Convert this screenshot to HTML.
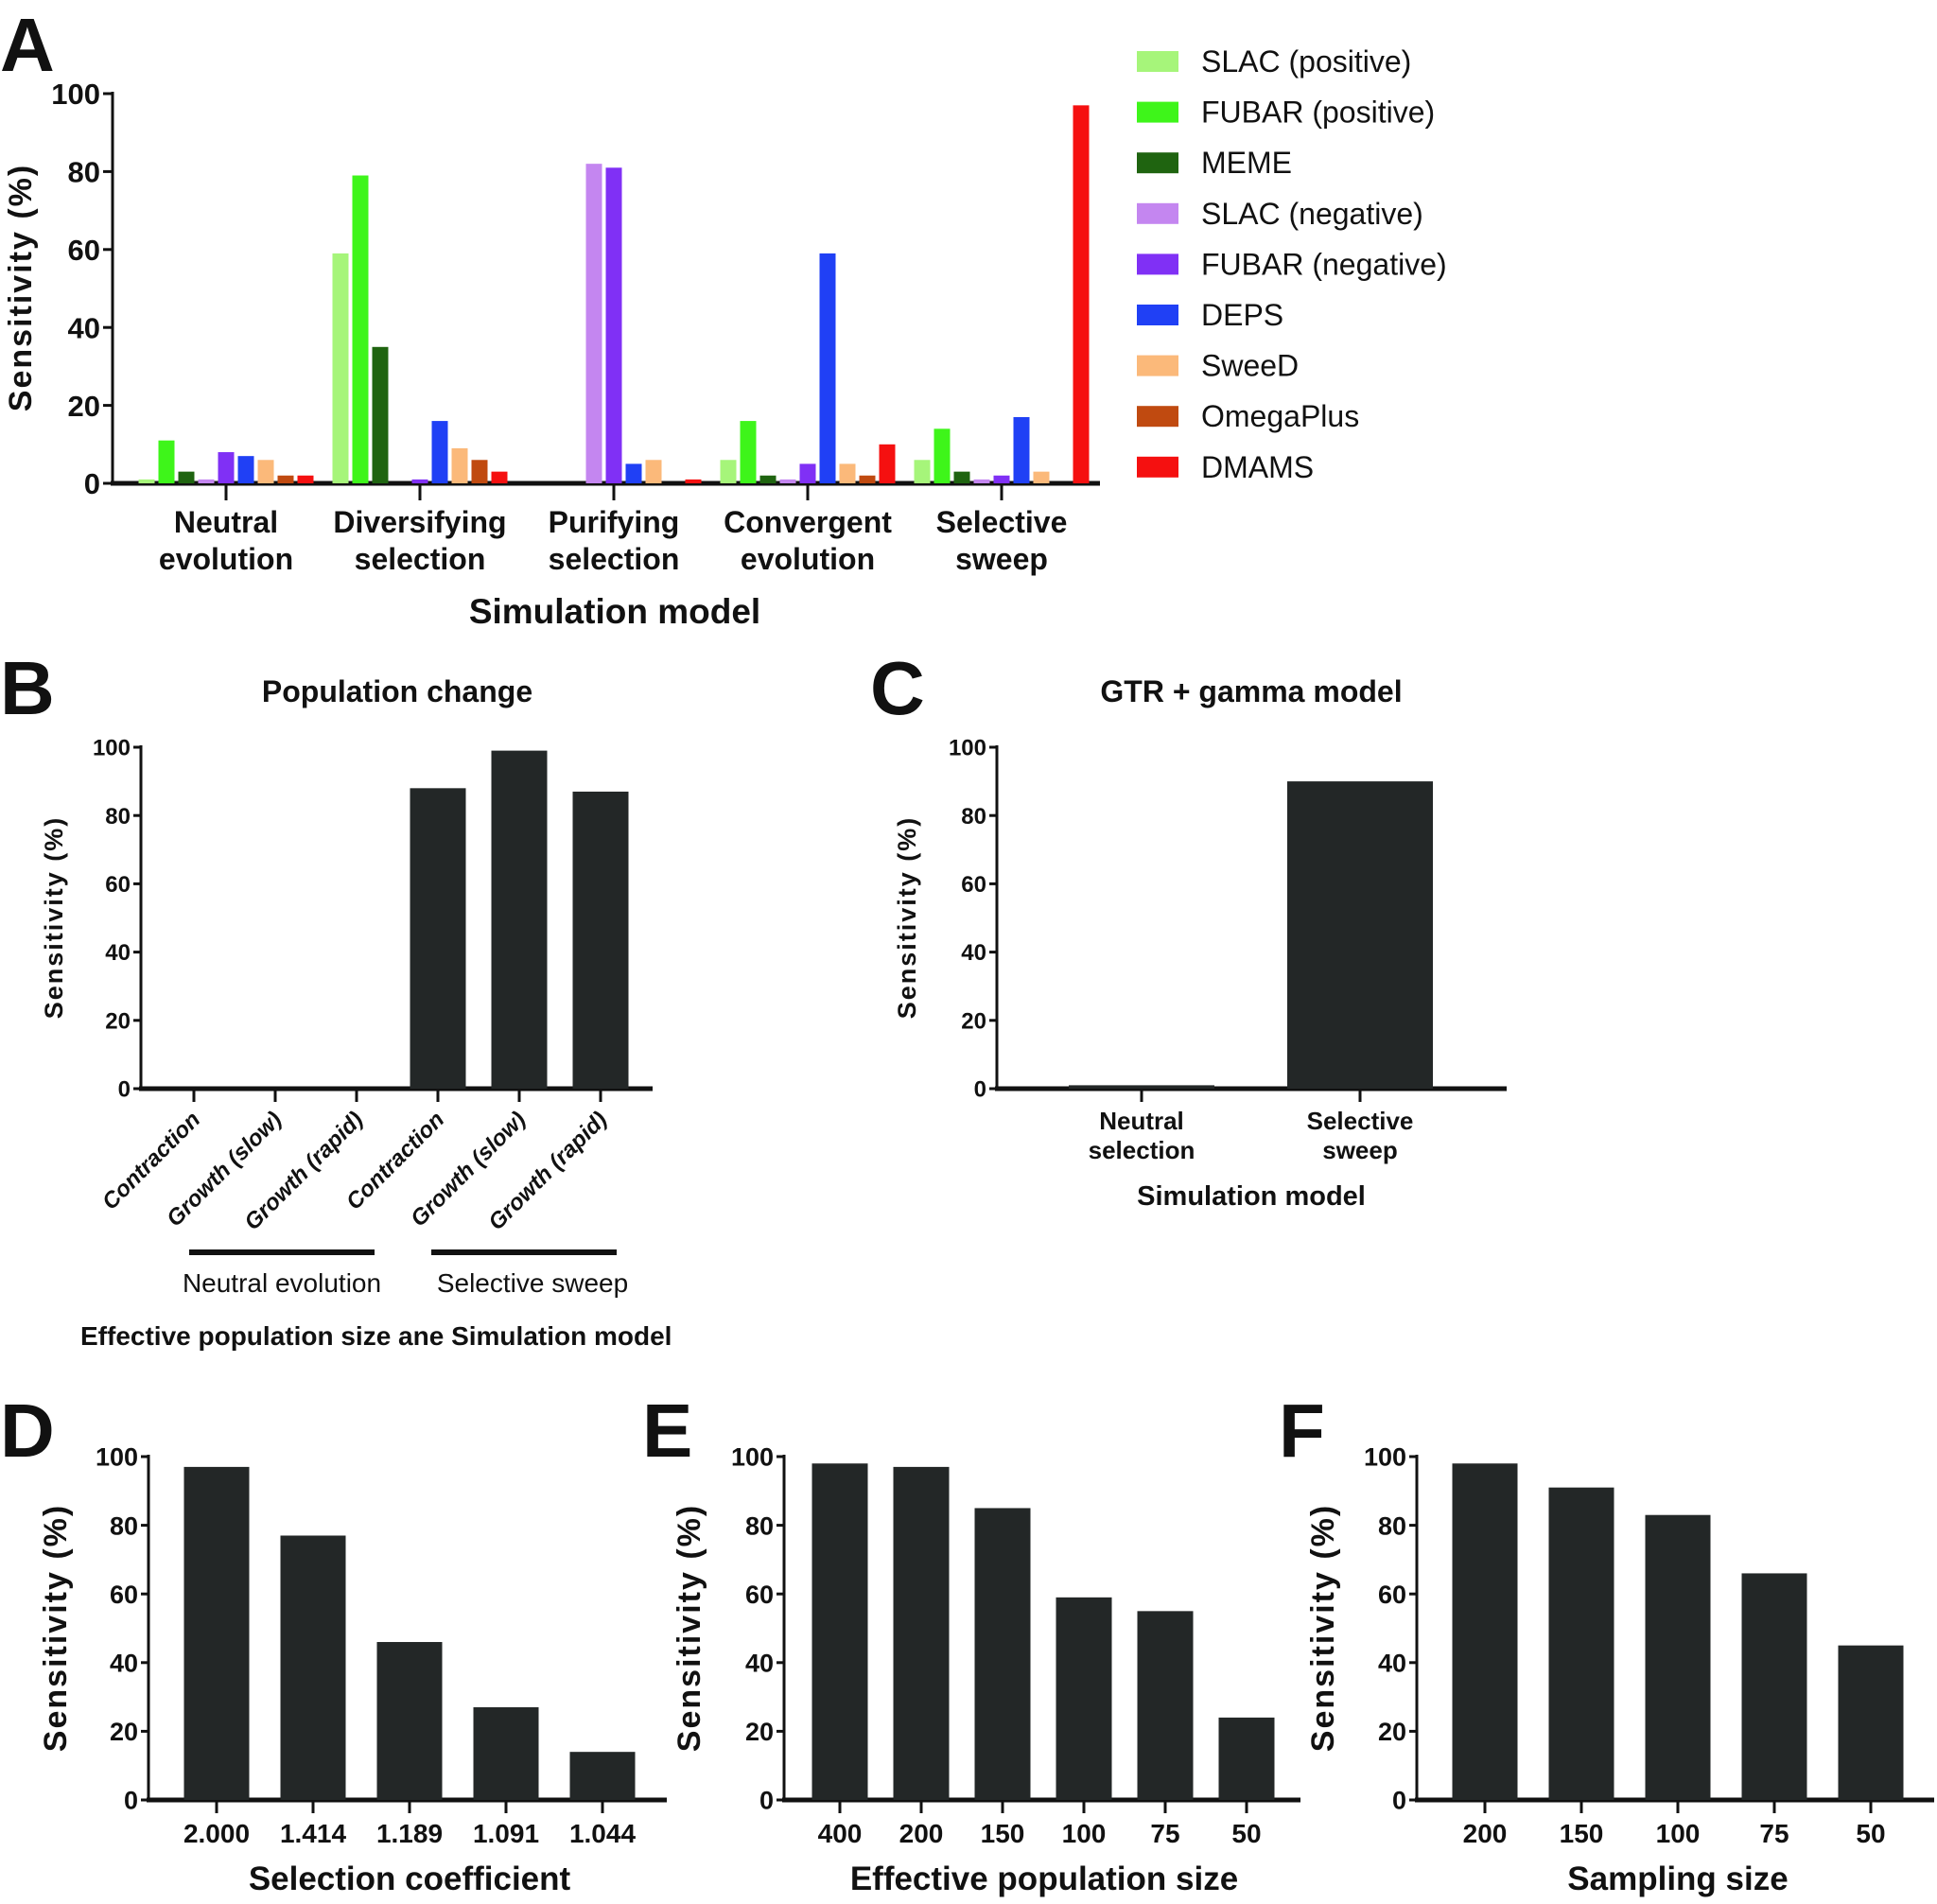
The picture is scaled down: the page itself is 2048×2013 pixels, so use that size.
<!DOCTYPE html>
<html><head><meta charset="utf-8"><style>
html,body{margin:0;padding:0;background:#fff;}
svg{display:block;font-family:"Liberation Sans",sans-serif;}
</style></head><body>
<svg id="fig" width="2048" height="2013" viewBox="0 0 2048 2013" xmlns="http://www.w3.org/2000/svg"></svg>
<script>
// ---- Panel A data ----
const aCategories = [["Neutral","evolution"],["Diversifying","selection"],["Purifying","selection"],["Convergent","evolution"],["Selective","sweep"]];
const aSeries = ["SLAC (positive)","FUBAR (positive)","MEME","SLAC (negative)","FUBAR (negative)","DEPS","SweeD","OmegaPlus","DMAMS"];
const aColors = ["#a6f57a","#3ef51a","#1f6410","#c486f0","#8030f5","#2040f5","#fbb97a","#c04a10","#f51010"];
const aSLACpos = [1,59,0,6,6];
const aFUBARpos = [11,79,0,16,14];
const aMEME = [3,35,0,2,3];
const aSLACneg = [1,0,82,1,1];
const aFUBARneg = [8,1,81,5,2];
const aDEPS = [7,16,5,59,17];
const aSweeD = [6,9,6,5,3];
const aOmega = [2,6,0,2,0];
const aDMAMS = [2,3,1,10,97];
const aValues = [aSLACpos,aFUBARpos,aMEME,aSLACneg,aFUBARneg,aDEPS,aSweeD,aOmega,aDMAMS];
const yTicks = [0,20,40,60,80,100];
// ---- Panel B ----
const bCategories = ["Contraction","Growth (slow)","Growth (rapid)","Contraction","Growth (slow)","Growth (rapid)"];
const bValues = [0,0,0,88,99,87];
// ---- Panel C ----
const cCategories = [["Neutral","selection"],["Selective","sweep"]];
const cValues = [1,90];
// ---- Panel D ----
const dCategories = ["2.000","1.414","1.189","1.091","1.044"];
const dValues = [97,77,46,27,14];
// ---- Panel E ----
const eCategories = ["400","200","150","100","75","50"];
const eValues = [98,97,85,59,55,24];
// ---- Panel F ----
const fCategories = ["200","150","100","75","50"];
const fValues = [98,91,83,66,45];

const NS="http://www.w3.org/2000/svg";
const svg=document.getElementById('fig');
function el(tag,attrs,parent,text){const e=document.createElementNS(NS,tag);for(const k in attrs)e.setAttribute(k,attrs[k]);if(text!==undefined)e.textContent=text;(parent||svg).appendChild(e);return e;}
const BAR="#232727";

function axes(g,x0,yTop,yZero,xEnd,fs,tickLen){
  const ys=v=>yZero-v/100*(yZero-yTop);
  const yl=el('line',{x1:x0,y1:yTop-2,x2:x0,y2:yZero,stroke:'#111','stroke-width':3},g);
  
  
  yTicks.forEach(t=>{
    const tk=el('line',{x1:x0-tickLen,y1:ys(t),x2:x0,y2:ys(t),stroke:'#111','stroke-width':3},g);
    
    
    const tl=el('text',{x:x0-tickLen-3,y:ys(t)+fs*0.36,'text-anchor':'end','font-size':fs,'font-weight':'bold',fill:'#111'},g,String(t));
    
    
  });
  const xl=el('line',{x1:x0-2,y1:yZero,x2:xEnd,y2:yZero,stroke:'#111','stroke-width':5},g);
  
  
  return ys;
}
function label(x,y,txt,fs,opts,name,parent){
  const a=Object.assign({x:x,y:y,'font-size':fs,'font-weight':'bold',fill:'#111','text-anchor':'middle'},opts||{});
  const t=el('text',a,parent,txt);
  
  
  return t;
}
function ytitle(x,y,fs,parent){
  const t=el('text',{x:0,y:0,transform:`translate(${x},${y}) rotate(-90)`,'font-size':fs,'font-weight':'bold',fill:'#111','text-anchor':'middle','letter-spacing':'2'},parent,'Sensitivity (%)');
  
  
}
function simpleBars(g,values,x0,step,w,ys,yZero,name){
  values.forEach((v,i)=>{
    const cx=x0+i*step;
    const r=el('rect',{x:cx-w/2,y:ys(v),width:w,height:Math.max(0,yZero-ys(v)),fill:BAR},g);
    
    
    const tk=el('line',{x1:cx,y1:yZero,x2:cx,y2:yZero+14,stroke:'#111','stroke-width':3},g);
    
    
  });
}
function grp(name){const g=el('g',{});return g;}

// ===== Panel A =====
(function(){
  const g=grp('panel-a');
  label(0,75,'A',80,{'text-anchor':'start'},'panel-label-a',g);
  const yZero=511,yTop=99,x0=119;
  const ys=axes(g,x0,yTop,yZero,1163,31,10);
  const gx0=239,gstep=205,bstep=21,bw=17;
  aCategories.forEach((c,ci)=>{
    const cx=gx0+ci*gstep;
    aValues.forEach((arr,si)=>{
      const v=arr[ci];
      const bx=cx+(si-4)*bstep;
      const r=el('rect',{x:bx-bw/2,y:ys(v),width:bw,height:yZero-ys(v),fill:aColors[si]},g);
      
      
    });
    const tk=el('line',{x1:cx,y1:yZero,x2:cx,y2:yZero+18,stroke:'#111','stroke-width':3},g);
    
    
    label(cx,563,c[0],32,{},'x-tick-label',g);
    label(cx,602,c[1],32,{},'x-tick-label',g);
  });
  label(650,659,'Simulation model',37,{},'x-axis-title',g);
  ytitle(33,304,34,g);
  // legend
  aSeries.forEach((s,i)=>{
    const y=65+i*53.6;
    const r=el('rect',{x:1202,y:y-11,width:44,height:22,fill:aColors[i]},g);
    
    
    label(1270,y+11,s,32,{'text-anchor':'start','font-weight':'normal'},'legend-entry',g);
  });
})();

// ===== Panel B =====
(function(){
  const g=grp('panel-b');
  label(0,755,'B',80,{'text-anchor':'start'},'panel-label-b',g);
  label(420,742,'Population change',32,{},'chart-title',g);
  const yZero=1151,yTop=790,x0=149;
  const ys=axes(g,x0,yTop,yZero,690,24,8);
  simpleBars(g,bValues,205,86,59,ys,yZero,'b');
  bCategories.forEach((c,i)=>{
    const cx=205+i*86;
    const t=el('text',{x:0,y:0,transform:`translate(${cx+8},${yZero+34}) rotate(-45)`,'font-size':24,'font-weight':'bold','font-style':'italic','text-anchor':'end',fill:'#111'},g,c);
    
    
  });
  const l1=el('line',{x1:200,y1:1324,x2:396,y2:1324,stroke:'#111','stroke-width':6},g);
  
  
  const l2=el('line',{x1:456,y1:1324,x2:652,y2:1324,stroke:'#111','stroke-width':6},g);
  
  
  label(298,1366,'Neutral evolution',28,{'font-weight':'normal'},'group-label',g);
  label(563,1366,'Selective sweep',28,{'font-weight':'normal'},'group-label',g);
  label(85,1422,'Effective population size ane Simulation model',28,{'text-anchor':'start'},'x-axis-title',g);
  ytitle(66,970,27,g);
})();

// ===== Panel C =====
(function(){
  const g=grp('panel-c');
  label(920,755,'C',80,{'text-anchor':'start'},'panel-label-c',g);
  label(1323,742,'GTR + gamma model',32,{},'chart-title',g);
  const yZero=1151,yTop=790,x0=1054;
  const ys=axes(g,x0,yTop,yZero,1593,24,8);
  simpleBars(g,cValues,1207,231,154,ys,yZero,'c');
  cCategories.forEach((c,i)=>{
    const cx=1207+i*231;
    label(cx,1194,c[0],26,{},'x-tick-label',g);
    label(cx,1225,c[1],26,{},'x-tick-label',g);
  });
  label(1323,1274,'Simulation model',29,{},'x-axis-title',g);
  ytitle(968,970,27,g);
})();

// ===== Panels D/E/F =====
function bottom(name,letter,lx,x0,xEnd,first,step,w,cats,vals,title,titleX,ytx){
  const g=grp(name);
  label(lx,1540,letter,80,{'text-anchor':'start'},'panel-label-'+letter.toLowerCase(),g);
  const yZero=1903,yTop=1540;
  const ys=axes(g,x0,yTop,yZero,xEnd,27,8);
  simpleBars(g,vals,first,step,w,ys,yZero,letter.toLowerCase());
  cats.forEach((c,i)=>label(first+i*step,1948,c,28,{},'x-tick-label',g));
  label(titleX,1998,title,35,{},'x-axis-title',g);
  ytitle(ytx,1721,34,g);
}
bottom('panel-d','D',0,157,705,229,102,69,dCategories,dValues,'Selection coefficient',433,70);
bottom('panel-e','E',679,829,1375,888,86,59,eCategories,eValues,'Effective population size',1104,740);
bottom('panel-f','F',1352,1498,2045,1570,102,69,fCategories,fValues,'Sampling size',1774,1410);
</script>
</body></html>
